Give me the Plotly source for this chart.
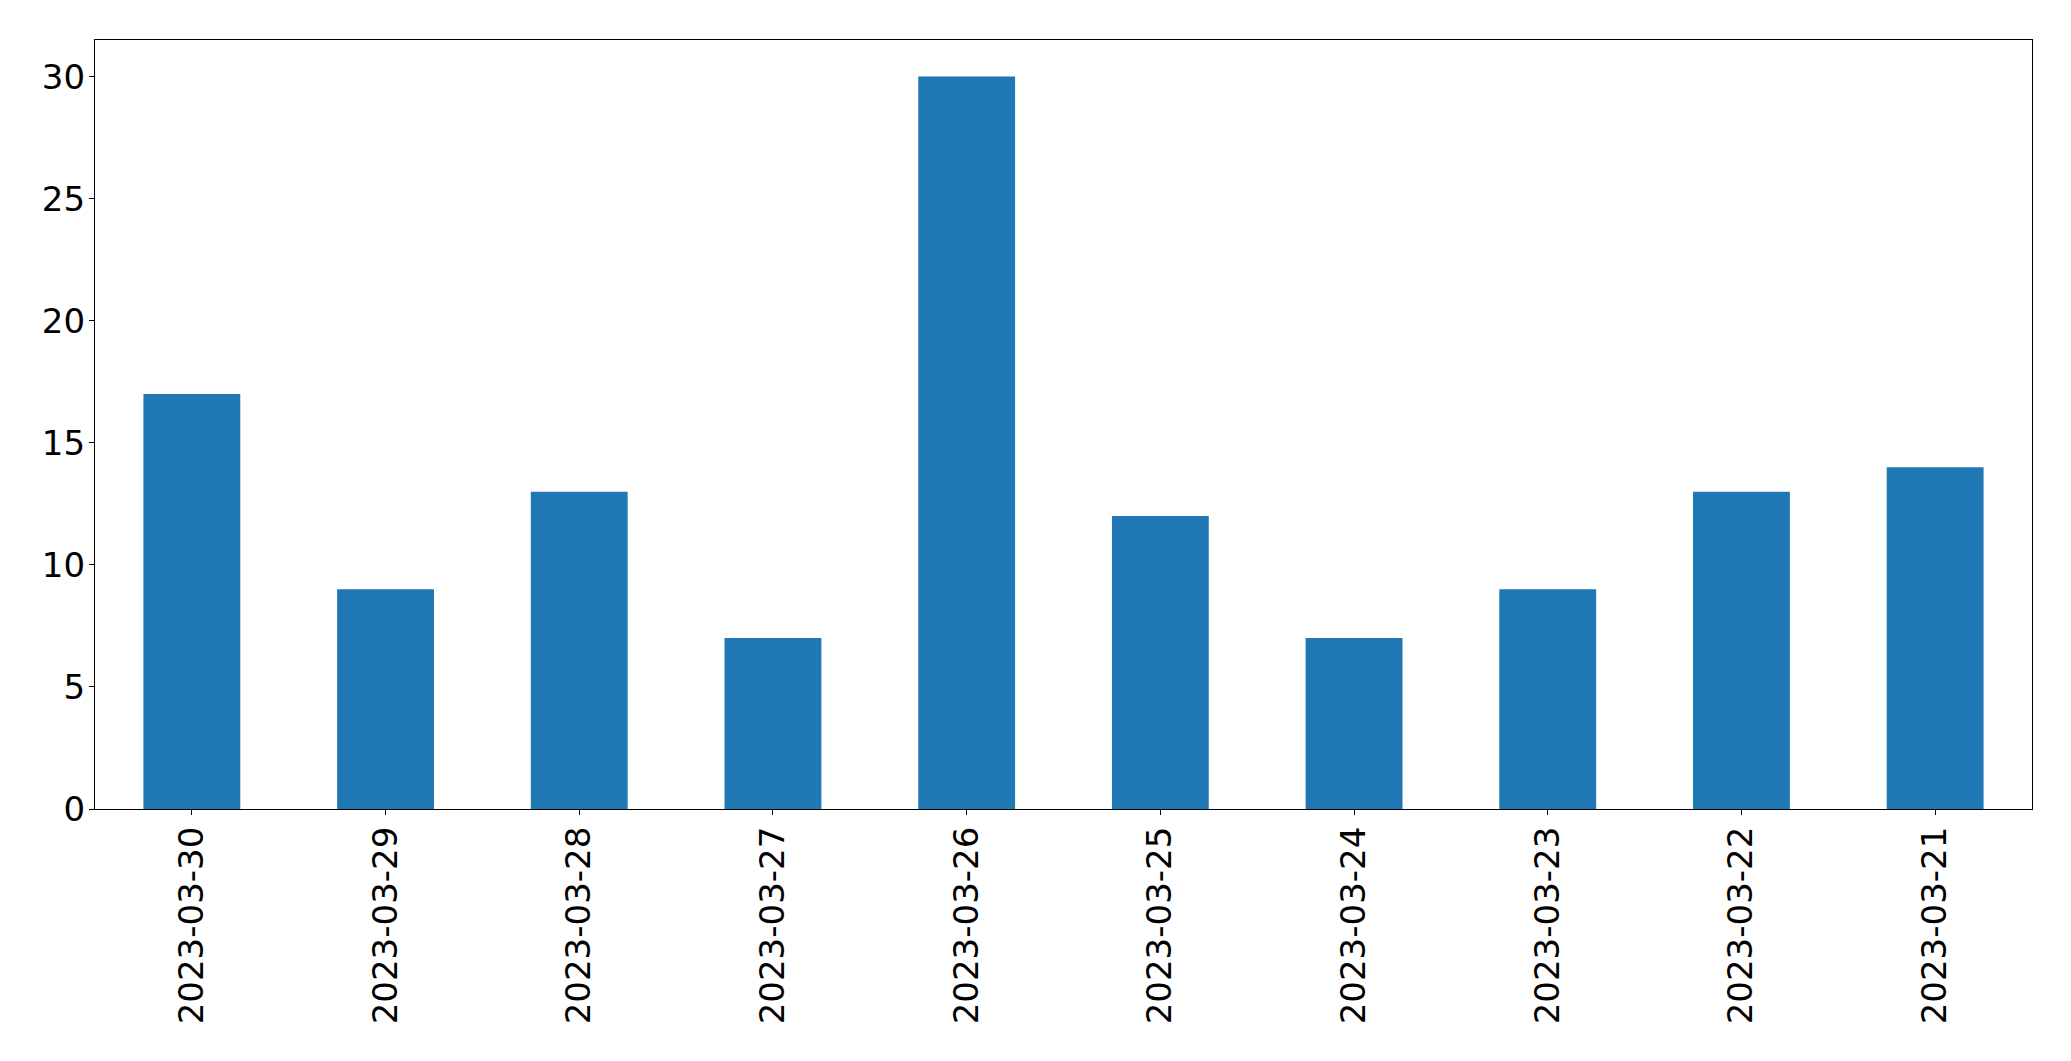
import plotly.graph_objects as go

dates = ["2023-03-30", "2023-03-29", "2023-03-28", "2023-03-27", "2023-03-26",
         "2023-03-25", "2023-03-24", "2023-03-23", "2023-03-22", "2023-03-21"]
counts = [17, 9, 13, 7, 30, 12, 7, 9, 13, 14]
y_ticks = [0, 5, 10, 15, 20, 25, 30]

fig = go.Figure(go.Bar(x=dates, y=counts, marker_color="#1f77b4",
                       marker_line_width=0, width=0.5))

axis_common = dict(showline=True, linecolor="black", linewidth=1.2, mirror=True,
                   ticks="outside", ticklen=5, tickwidth=1.2, tickcolor="black",
                   showgrid=False, zeroline=False,
                   tickfont=dict(family="DejaVu Sans", size=34, color="black"))

# page body adds an 8px offset; compensate so the plot area lands where the reference has it
fig.update_layout(
    width=2055, height=1045,
    margin=dict(l=86.5, r=31.3, t=31.5, b=244, pad=0),
    paper_bgcolor="white", plot_bgcolor="white",
    showlegend=False, bargap=0.5,
    xaxis=dict(type="category", range=[-0.5, 9.5], tickangle=-90,
               ticklabelstandoff=-2, **axis_common),
    yaxis=dict(range=[0, 31.5], tickvals=y_ticks, ticklabelstandoff=-3, **axis_common),
)

fig.write_html("out.html")
